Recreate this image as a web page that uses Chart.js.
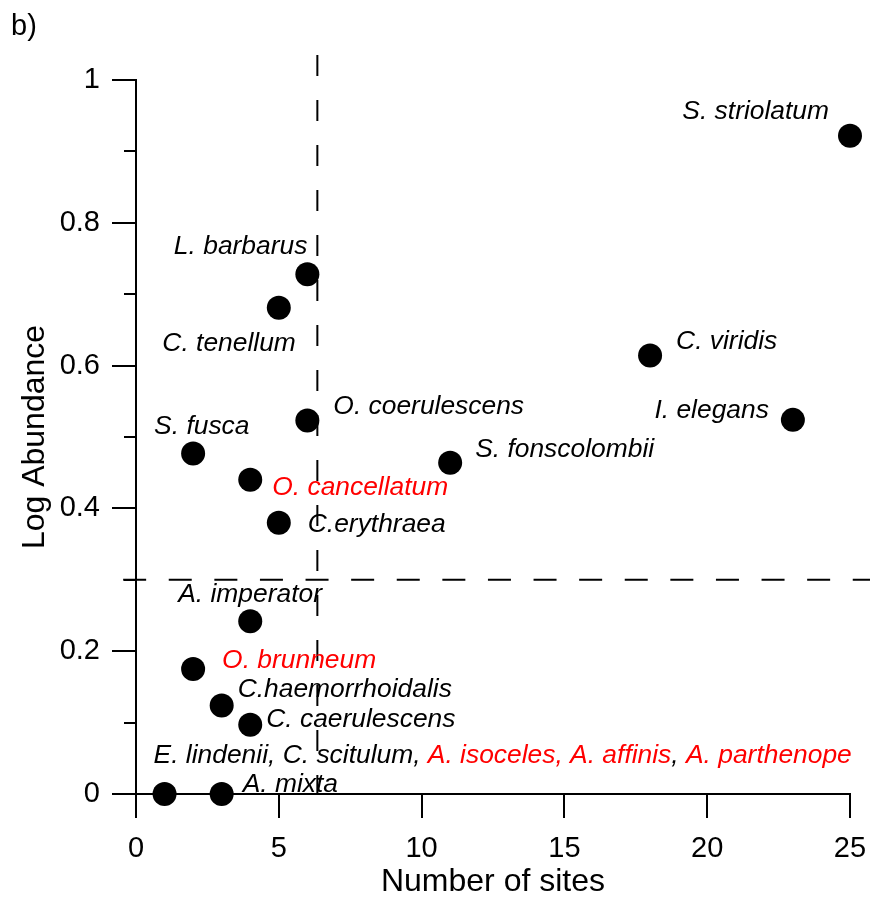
<!DOCTYPE html>
<html><head><meta charset="utf-8">
<script src="https://cdn.jsdelivr.net/npm/chart.js@4.4.1/dist/chart.umd.min.js"></script>
<style>html,body{margin:0;padding:0;background:#fff}canvas{display:block}</style>
</head><body>
<canvas id="c" width="870" height="897"></canvas>
<script>
// ---------- data ----------
const species = ["S. striolatum","L. barbarus","C. tenellum","C. viridis","I. elegans","O. coerulescens","S. fusca","S. fonscolombii","O. cancellatum","C.erythraea","A. imperator","O. brunneum","C.haemorrhoidalis","C. caerulescens","E. lindenii, C. scitulum, A. isoceles, A. affinis, A. parthenope","A. mixta"];
const numberOfSites = [25,6,5,18,23,6,2,11,4,5,4,2,3,4,1,3];
const logAbundance = [0.922,0.728,0.681,0.614,0.524,0.523,0.477,0.464,0.440,0.380,0.242,0.175,0.124,0.097,0,0];
const xTicks = [0,5,10,15,20,25];
const yTicks = [0,0.2,0.4,0.6,0.8,1];
const yMinorTicks = [0.1,0.3,0.5,0.7,0.9];
const thresholdSites = 6.35;
const thresholdAbundance = 0.3;
const redNames = ["O. cancellatum","O. brunneum","A. isoceles","A. affinis","A. parthenope"];

// ---------- label layout (pixel offsets from the point) ----------
const labelAlign = ["right","right","right","left","right","left","left","left","left","left","left","left","left","left","left","left"];
const labelDx = [-21,0,17,26,-24,26,-39,25,22,29,-72,29,16,16,-11,21];
const labelDy = [-17,-20,43,-7,-2,-7,-19,-6,15,9,-19,-1,-8,2,-31,-2];

const FONT = "'Liberation Sans', Arial, Helvetica, sans-serif";
const RED = "#ff0000";

function segmentsFor(name){
  if (name.indexOf(", ") >= 0) {
    return [["E. lindenii, C. scitulum, ","#000"],["A. isoceles, A. affinis",RED],[", ","#000"],["A. parthenope",RED]];
  }
  return [[name, redNames.includes(name) ? RED : "#000"]];
}

const overlay = {
  id: 'overlay',
  beforeDatasetsDraw(chart){
    const ctx = chart.ctx, xs = chart.scales.x, ys = chart.scales.y;
    ctx.save();
    ctx.strokeStyle = '#000';
    ctx.lineWidth = 2;
    // vertical threshold
    ctx.setLineDash([21,24]);
    const vx = xs.getPixelForValue(thresholdSites);
    ctx.beginPath();
    ctx.moveTo(vx, ys.getPixelForValue(1.035));
    ctx.lineTo(vx, ys.getPixelForValue(0));
    ctx.stroke();
    // horizontal threshold
    ctx.setLineDash([23,22.6]);
    const hy = ys.getPixelForValue(thresholdAbundance);
    ctx.beginPath();
    ctx.moveTo(xs.getPixelForValue(-0.45), hy);
    ctx.lineTo(chart.width, hy);
    ctx.stroke();
    ctx.restore();
  },
  afterDatasetsDraw(chart){
    const ctx = chart.ctx, xs = chart.scales.x, ys = chart.scales.y;
    ctx.save();
    // minor ticks on y
    ctx.strokeStyle = '#000';
    ctx.lineWidth = 2;
    const ax = chart.chartArea.left;
    yMinorTicks.forEach(v => {
      const py = Math.round(ys.getPixelForValue(v));
      ctx.beginPath();
      ctx.moveTo(ax - 12, py);
      ctx.lineTo(ax, py);
      ctx.stroke();
    });
    // point labels
    ctx.font = "italic 26.4px " + FONT;
    ctx.textBaseline = 'alphabetic';
    species.forEach((name, i) => {
      const px = xs.getPixelForValue(numberOfSites[i]);
      const py = ys.getPixelForValue(logAbundance[i]);
      const segs = segmentsFor(name);
      const total = segs.reduce((s, g) => s + ctx.measureText(g[0]).width, 0);
      let x = labelAlign[i] === 'right' ? px + labelDx[i] - total : px + labelDx[i];
      const y = py + labelDy[i];
      ctx.textAlign = 'left';
      segs.forEach(g => {
        ctx.fillStyle = g[1];
        ctx.fillText(g[0], x, y);
        x += ctx.measureText(g[0]).width;
      });
    });
    // axis titles
    ctx.fillStyle = '#000';
    ctx.font = "32px " + FONT;
    ctx.textAlign = 'center';
    ctx.textBaseline = 'alphabetic';
    const ca = chart.chartArea;
    ctx.fillText("Number of sites", (ca.left + ca.right) / 2, 891);
    ctx.save();
    ctx.translate(44, (ca.top + ca.bottom) / 2);
    ctx.rotate(-Math.PI / 2);
    ctx.fillText("Log Abundance", 0, 0);
    ctx.restore();
    // panel letter
    ctx.font = "29px " + FONT;
    ctx.textAlign = 'left';
    ctx.fillText("b)", 11, 35);
    ctx.restore();
  }
};

function zeroPad(s){ s.paddingLeft = 0; s.paddingRight = 0; s.paddingTop = 0; s.paddingBottom = 0; }

new Chart(document.getElementById('c'), {
  type: 'scatter',
  data: {
    datasets: [{
      data: numberOfSites.map((x, i) => ({x: x, y: logAbundance[i]})),
      backgroundColor: '#000',
      borderWidth: 0,
      pointRadius: 12,
      pointHoverRadius: 12,
      clip: false
    }]
  },
  options: {
    responsive: false,
    animation: false,
    layout: { padding: { left: 0, right: 20, top: 80, bottom: 0 } },
    plugins: { legend: { display: false }, tooltip: { enabled: false } },
    scales: {
      x: {
        type: 'linear', min: 0, max: 25,
        afterBuildTicks: s => { s.ticks = xTicks.map(v => ({value: v})); },
        afterFit: s => { s.height = 103; zeroPad(s); },
        ticks: { color: '#000', font: { family: FONT, size: 29 }, padding: 14, maxRotation: 0,
                 callback: v => String(v) },
        grid: { display: true, drawOnChartArea: false, drawTicks: true, tickLength: 24, color: '#000', lineWidth: 2 },
        border: { display: true, color: '#000', width: 2 }
      },
      y: {
        type: 'linear', min: 0, max: 1,
        afterBuildTicks: s => { s.ticks = yTicks.map(v => ({value: v})); },
        afterFit: s => { s.width = 136; zeroPad(s); },
        ticks: { color: '#000', font: { family: FONT, size: 29 }, padding: 12,
                 callback: v => String(Math.round(v * 10) / 10) },
        grid: { display: true, drawOnChartArea: false, drawTicks: true, tickLength: 24, color: '#000', lineWidth: 2 },
        border: { display: true, color: '#000', width: 2 }
      }
    }
  },
  plugins: [overlay]
});
</script>
</body></html>
